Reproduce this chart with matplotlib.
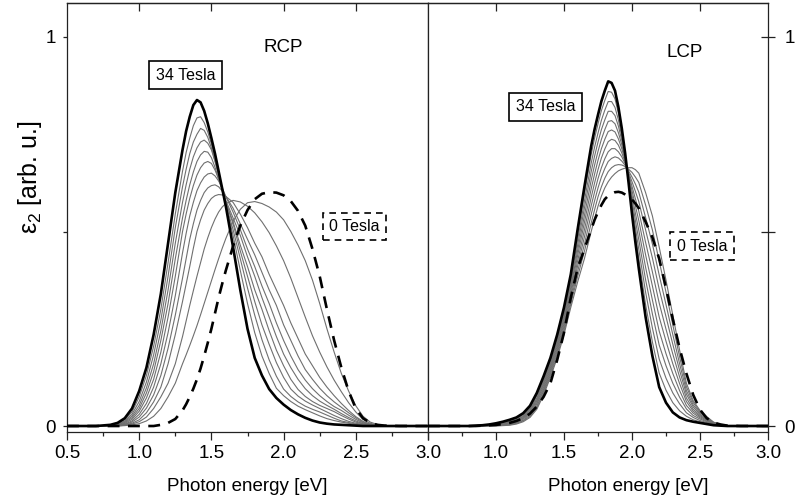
import matplotlib
matplotlib.use("Agg")
import matplotlib.pyplot as plt
from matplotlib.ticker import MultipleLocator, NullFormatter, NullLocator

plt.rcParams['font.family'] = ['Liberation Sans', 'DejaVu Sans']
plt.rcParams['mathtext.fontset'] = 'custom'
plt.rcParams['mathtext.rm'] = 'Liberation Sans'
plt.rcParams['mathtext.it'] = 'Liberation Sans:italic'

# photon energy grids [eV] (finer where the peaks are)
rcp_energy = [0.5, 0.7, 0.8,
              0.85, 0.9, 0.95, 1.0, 1.05, 1.1, 1.15, 1.2, 1.25, 1.3,
              1.325, 1.35, 1.375, 1.4, 1.425, 1.45, 1.475, 1.5, 1.525, 1.55, 1.575,
              1.6, 1.65, 1.7, 1.75, 1.8, 1.85, 1.9, 1.95, 2.0, 2.05, 2.1, 2.15, 2.2, 2.25,
              2.3, 2.35, 2.4, 2.45, 2.5, 2.55, 2.6, 2.65, 2.7,
              2.8, 3.0]
lcp_energy = [0.5, 0.7, 0.8,
              0.85, 0.9, 0.95, 1.0, 1.05, 1.1, 1.15, 1.2, 1.25, 1.3, 1.35, 1.4, 1.45, 1.5,
              1.55, 1.6, 1.65, 1.7,
              1.725, 1.75, 1.775, 1.8, 1.825, 1.85, 1.875, 1.9, 1.925, 1.95, 1.975, 2.0, 2.025,
              2.05, 2.1, 2.15, 2.2, 2.25, 2.3, 2.35, 2.4, 2.45, 2.5, 2.55, 2.6, 2.65, 2.7,
              2.8, 3.0]


def padded(vals, energy, lead=0.0):
    vals = list(vals)
    if len(vals) + 5 != len(energy):
        raise ValueError('bad length %d' % len(vals))
    return [0.0, 0.0, lead] + vals + [0.0, 0.0]


# ---- RCP ----
rcp_34 = padded([0.008, 0.020, 0.045, 0.090, 0.150, 0.235, 0.340, 0.470, 0.600, 0.710,
                 0.758, 0.795, 0.825, 0.838, 0.832, 0.810, 0.778, 0.740, 0.700, 0.655, 0.610,
                 0.565, 0.460, 0.350, 0.250, 0.175, 0.130, 0.095, 0.072, 0.055, 0.041, 0.030, 0.021,
                 0.014, 0.009, 0.006, 0.004, 0.003, 0.002, 0.001, 0, 0, 0, 0], rcp_energy, lead=0.003)
rcp_0 = padded([0, 0, 0, 0, 0, 0, 0.003, 0.008, 0.018, 0.040,
                0.056, 0.075, 0.096, 0.120, 0.148, 0.180, 0.214, 0.250, 0.290, 0.330, 0.366,
                0.400, 0.462, 0.515, 0.555, 0.583, 0.597, 0.601, 0.600, 0.593, 0.578, 0.553, 0.515,
                0.455, 0.385, 0.300, 0.220, 0.150, 0.090, 0.045, 0.020, 0.008, 0.003, 0.001], rcp_energy)
rcp_mid = [
    padded([0.006, 0.016, 0.036, 0.075, 0.130, 0.205, 0.300, 0.420, 0.545, 0.655,
            0.703, 0.740, 0.772, 0.792, 0.795, 0.780, 0.756, 0.725, 0.690, 0.650, 0.610,
            0.570, 0.490, 0.400, 0.315, 0.240, 0.180, 0.135, 0.097, 0.078, 0.063, 0.051, 0.042,
            0.034, 0.026, 0.019, 0.014, 0.010, 0.007, 0.004, 0.002, 0.001, 0, 0], rcp_energy),
    padded([0.005, 0.013, 0.030, 0.063, 0.113, 0.183, 0.272, 0.385, 0.510, 0.615,
            0.660, 0.700, 0.730, 0.750, 0.765, 0.760, 0.742, 0.715, 0.682, 0.645, 0.607,
            0.570, 0.505, 0.430, 0.355, 0.285, 0.222, 0.170, 0.128, 0.095, 0.076, 0.062, 0.051,
            0.043, 0.036, 0.028, 0.020, 0.013, 0.009, 0.005, 0.003, 0.001, 0, 0], rcp_energy),
    padded([0.004, 0.011, 0.025, 0.053, 0.098, 0.160, 0.245, 0.350, 0.470, 0.575,
            0.620, 0.660, 0.692, 0.715, 0.730, 0.735, 0.727, 0.710, 0.680, 0.645, 0.610,
            0.575, 0.520, 0.450, 0.385, 0.320, 0.260, 0.210, 0.163, 0.125, 0.095, 0.077, 0.064,
            0.054, 0.045, 0.036, 0.027, 0.019, 0.012, 0.007, 0.004, 0.002, 0.001, 0], rcp_energy),
    padded([0.003, 0.009, 0.021, 0.045, 0.085, 0.140, 0.220, 0.315, 0.430, 0.535,
            0.580, 0.620, 0.653, 0.680, 0.697, 0.706, 0.704, 0.690, 0.665, 0.635, 0.605,
            0.575, 0.525, 0.465, 0.410, 0.350, 0.300, 0.245, 0.195, 0.155, 0.120, 0.094, 0.076,
            0.063, 0.053, 0.045, 0.037, 0.027, 0.018, 0.010, 0.005, 0.002, 0.001, 0], rcp_energy),
    padded([0.002, 0.007, 0.017, 0.038, 0.072, 0.120, 0.190, 0.280, 0.385, 0.500,
            0.545, 0.585, 0.618, 0.645, 0.664, 0.676, 0.680, 0.675, 0.658, 0.635, 0.608,
            0.580, 0.535, 0.490, 0.435, 0.385, 0.330, 0.280, 0.230, 0.185, 0.150, 0.120, 0.096,
            0.078, 0.064, 0.053, 0.043, 0.032, 0.022, 0.013, 0.006, 0.003, 0.001, 0], rcp_energy),
    padded([0.002, 0.005, 0.013, 0.030, 0.058, 0.100, 0.160, 0.240, 0.335, 0.445,
            0.495, 0.540, 0.575, 0.605, 0.625, 0.640, 0.648, 0.650, 0.643, 0.630, 0.612,
            0.590, 0.550, 0.505, 0.455, 0.410, 0.360, 0.315, 0.265, 0.220, 0.180, 0.145, 0.118,
            0.096, 0.078, 0.063, 0.050, 0.040, 0.028, 0.017, 0.008, 0.003, 0.001, 0], rcp_energy),
    padded([0.001, 0.004, 0.010, 0.023, 0.046, 0.080, 0.130, 0.200, 0.285, 0.380,
            0.430, 0.480, 0.520, 0.555, 0.580, 0.600, 0.612, 0.618, 0.620, 0.615, 0.604,
            0.590, 0.560, 0.520, 0.480, 0.440, 0.395, 0.350, 0.310, 0.260, 0.220, 0.180, 0.145,
            0.120, 0.097, 0.078, 0.062, 0.048, 0.034, 0.021, 0.010, 0.004, 0.001, 0], rcp_energy),
    padded([0.001, 0.003, 0.007, 0.016, 0.034, 0.062, 0.100, 0.160, 0.235, 0.320,
            0.365, 0.410, 0.457, 0.500, 0.530, 0.555, 0.572, 0.585, 0.592, 0.595, 0.594,
            0.590, 0.575, 0.545, 0.510, 0.470, 0.435, 0.390, 0.350, 0.310, 0.265, 0.225, 0.185,
            0.155, 0.125, 0.100, 0.078, 0.058, 0.040, 0.024, 0.012, 0.005, 0.002, 0], rcp_energy),
    padded([0, 0.002, 0.005, 0.011, 0.023, 0.045, 0.075, 0.110, 0.160, 0.230,
            0.270, 0.310, 0.348, 0.385, 0.420, 0.455, 0.484, 0.510, 0.532, 0.550, 0.563,
            0.572, 0.580, 0.576, 0.565, 0.548, 0.525, 0.497, 0.463, 0.425, 0.380, 0.330, 0.280,
            0.232, 0.190, 0.152, 0.118, 0.088, 0.060, 0.036, 0.017, 0.007, 0.002, 0], rcp_energy),
    padded([0, 0.001, 0.003, 0.006, 0.013, 0.025, 0.045, 0.075, 0.110, 0.160,
            0.183, 0.207, 0.232, 0.258, 0.286, 0.315, 0.344, 0.373, 0.402, 0.430, 0.457,
            0.482, 0.526, 0.557, 0.574, 0.577, 0.572, 0.563, 0.550, 0.530, 0.500, 0.465, 0.425,
            0.375, 0.315, 0.250, 0.190, 0.135, 0.090, 0.052, 0.025, 0.010, 0.004, 0.001], rcp_energy),
]

# ---- LCP ----
lcp_34 = padded([0.001, 0.002, 0.004, 0.007, 0.011, 0.016, 0.022, 0.033, 0.052, 0.085, 0.128, 0.175,
                 0.235, 0.305, 0.390, 0.505, 0.615, 0.720,
                 0.763, 0.800, 0.835, 0.862, 0.886, 0.882, 0.862, 0.820, 0.765, 0.700, 0.625, 0.545, 0.472,
                 0.405, 0.280, 0.180, 0.100, 0.060, 0.035, 0.022, 0.015, 0.011, 0.008, 0.005, 0.002,
                 0.001, 0], lcp_energy)
lcp_0 = padded([0, 0.001, 0.002, 0.003, 0.005, 0.008, 0.013, 0.020, 0.032, 0.050, 0.075, 0.110,
                0.170, 0.240, 0.330, 0.405, 0.455, 0.505,
                0.530, 0.550, 0.568, 0.583, 0.592, 0.597, 0.601, 0.602, 0.600, 0.595, 0.589, 0.582, 0.572,
                0.560, 0.525, 0.485, 0.430, 0.355, 0.275, 0.200, 0.135, 0.080, 0.042, 0.020, 0.009,
                0.004, 0.001], lcp_energy)
lcp_mid = [
    padded([0.001, 0.002, 0.004, 0.006, 0.010, 0.015, 0.020, 0.031, 0.049, 0.081, 0.123, 0.170,
            0.229, 0.298, 0.382, 0.492, 0.597, 0.698,
            0.740, 0.777, 0.811, 0.837, 0.860, 0.858, 0.841, 0.804, 0.755, 0.696, 0.629, 0.557, 0.491,
            0.430, 0.312, 0.216, 0.136, 0.092, 0.060, 0.039, 0.025, 0.016, 0.011, 0.007, 0.003,
            0.001, 0], lcp_energy),
    padded([0.001, 0.002, 0.003, 0.006, 0.009, 0.013, 0.019, 0.029, 0.046, 0.077, 0.118, 0.165,
            0.223, 0.291, 0.373, 0.478, 0.578, 0.676,
            0.717, 0.753, 0.786, 0.812, 0.834, 0.834, 0.819, 0.787, 0.744, 0.693, 0.633, 0.569, 0.509,
            0.454, 0.344, 0.252, 0.172, 0.123, 0.085, 0.057, 0.034, 0.022, 0.014, 0.009, 0.004,
            0.002, 0], lcp_energy),
    padded([0.001, 0.001, 0.003, 0.005, 0.008, 0.012, 0.017, 0.026, 0.043, 0.072, 0.114, 0.160,
            0.217, 0.284, 0.365, 0.465, 0.560, 0.654,
            0.694, 0.730, 0.762, 0.787, 0.809, 0.809, 0.798, 0.771, 0.734, 0.689, 0.637, 0.581, 0.528,
            0.479, 0.376, 0.288, 0.208, 0.155, 0.110, 0.074, 0.044, 0.027, 0.018, 0.011, 0.004,
            0.002, 0], lcp_energy),
    padded([0.001, 0.001, 0.002, 0.004, 0.007, 0.010, 0.015, 0.024, 0.040, 0.068, 0.109, 0.155,
            0.211, 0.277, 0.356, 0.451, 0.541, 0.632,
            0.671, 0.706, 0.737, 0.762, 0.783, 0.785, 0.777, 0.754, 0.723, 0.685, 0.641, 0.593, 0.547,
            0.503, 0.408, 0.324, 0.244, 0.186, 0.135, 0.091, 0.053, 0.033, 0.021, 0.013, 0.005,
            0.002, 0], lcp_energy),
    padded([0.001, 0.001, 0.002, 0.004, 0.006, 0.009, 0.014, 0.022, 0.037, 0.064, 0.104, 0.150,
            0.205, 0.270, 0.348, 0.438, 0.523, 0.610,
            0.648, 0.683, 0.713, 0.737, 0.757, 0.761, 0.756, 0.738, 0.713, 0.682, 0.645, 0.605, 0.566,
            0.528, 0.440, 0.360, 0.280, 0.218, 0.160, 0.109, 0.063, 0.038, 0.024, 0.015, 0.006,
            0.003, 0.001], lcp_energy),
    padded([0, 0.001, 0.002, 0.003, 0.005, 0.008, 0.012, 0.020, 0.034, 0.060, 0.099, 0.145,
            0.199, 0.263, 0.339, 0.424, 0.504, 0.588,
            0.625, 0.659, 0.689, 0.712, 0.731, 0.737, 0.734, 0.722, 0.702, 0.678, 0.648, 0.616, 0.584,
            0.552, 0.472, 0.396, 0.316, 0.249, 0.185, 0.126, 0.072, 0.043, 0.027, 0.016, 0.007,
            0.003, 0.001], lcp_energy),
    padded([0, 0.001, 0.001, 0.002, 0.004, 0.006, 0.010, 0.018, 0.031, 0.056, 0.094, 0.140,
            0.193, 0.256, 0.331, 0.411, 0.486, 0.566,
            0.602, 0.636, 0.664, 0.687, 0.705, 0.713, 0.713, 0.705, 0.692, 0.674, 0.652, 0.628, 0.603,
            0.577, 0.504, 0.432, 0.352, 0.281, 0.210, 0.143, 0.082, 0.049, 0.030, 0.018, 0.008,
            0.003, 0.001], lcp_energy),
    padded([0, 0, 0.001, 0.001, 0.003, 0.005, 0.008, 0.015, 0.028, 0.051, 0.090, 0.135,
            0.187, 0.249, 0.322, 0.397, 0.467, 0.544,
            0.579, 0.612, 0.640, 0.662, 0.680, 0.688, 0.692, 0.689, 0.681, 0.670, 0.656, 0.640, 0.622,
            0.601, 0.536, 0.468, 0.388, 0.312, 0.235, 0.160, 0.091, 0.054, 0.034, 0.020, 0.008,
            0.003, 0.001], lcp_energy),
    padded([0, 0, 0, 0.001, 0.002, 0.003, 0.007, 0.013, 0.025, 0.047, 0.085, 0.130,
            0.181, 0.242, 0.314, 0.384, 0.449, 0.522,
            0.556, 0.589, 0.615, 0.637, 0.654, 0.664, 0.670, 0.672, 0.671, 0.667, 0.660, 0.652, 0.640,
            0.626, 0.568, 0.504, 0.424, 0.344, 0.260, 0.178, 0.101, 0.060, 0.037, 0.022, 0.009,
            0.004, 0.001], lcp_energy),
    padded([0, 0, 0, 0, 0.001, 0.002, 0.005, 0.011, 0.022, 0.043, 0.080, 0.125,
            0.175, 0.235, 0.305, 0.370, 0.430, 0.500,
            0.533, 0.565, 0.591, 0.612, 0.628, 0.640, 0.649, 0.656, 0.660, 0.663, 0.664, 0.664, 0.659,
            0.650, 0.600, 0.540, 0.460, 0.375, 0.285, 0.195, 0.110, 0.065, 0.040, 0.024, 0.010,
            0.004, 0.001], lcp_energy),
]

SPINE = '#222222'
THIN = '#6f6f6f'


def draw_panel(ax, energy, mids, zero, full):
    for y in mids:
        ax.plot(energy, y, color=THIN, lw=0.8, zorder=2, solid_joinstyle='round')
    ax.plot(energy, zero, color='black', lw=1.9, dashes=(4.5, 3.2), zorder=3)
    ax.plot(energy, full, color='black', lw=1.9, zorder=4, solid_joinstyle='round')

    ax.set_xlim(0.5, 3.0)
    ax.set_ylim(-0.0154, 1.0874)
    for s in ax.spines.values():
        s.set_linewidth(0.9)
        s.set_color(SPINE)

    ax.set_xticks([0.5, 1.0, 1.5, 2.0, 2.5, 3.0])
    ax.xaxis.set_minor_locator(MultipleLocator(0.25))
    ax.tick_params(axis='x', which='major', direction='out', length=6, width=0.9,
                   color=SPINE, labelsize=13.5, pad=3)
    ax.tick_params(axis='x', which='minor', direction='out', length=3, width=0.9, color=SPINE)

    top = ax.secondary_xaxis('top')
    top.set_xticks([1.0, 1.5, 2.0, 2.5])
    top.xaxis.set_major_formatter(NullFormatter())
    top.xaxis.set_minor_locator(NullLocator())
    top.tick_params(axis='x', direction='in', length=6, width=0.9, color=SPINE)
    top.spines['top'].set_linewidth(0.9)
    top.spines['top'].set_color(SPINE)

    ax.set_yticks([0, 0.5, 1.0])
    ax.set_yticklabels(['0', '', '1'])


fig = plt.figure(figsize=(7.99, 4.99), dpi=100)
ax1 = fig.add_axes([67 / 799, 67 / 499, 361 / 799, 429 / 499])
ax2 = fig.add_axes([428 / 799, 67 / 499, 340 / 799, 429 / 499])

draw_panel(ax1, rcp_energy, rcp_mid, rcp_0, rcp_34)
draw_panel(ax2, lcp_energy, lcp_mid, lcp_0, lcp_34)

ax1.set_xticklabels(['0.5', '1.0', '1.5', '2.0', '2.5', '3.0'])
ax2.set_xticklabels(['', '1.0', '1.5', '2.0', '2.5', '3.0'])

ax1.tick_params(axis='y', direction='out', length=3, width=0.9, color=SPINE, labelsize=13.5, pad=5)
ax2.yaxis.tick_right()
ax2.tick_params(axis='y', direction='inout', length=10, width=0.9, color=SPINE, labelsize=13.5, pad=7)

ax1.set_xlabel('Photon energy [eV]', fontsize=13.5)
ax2.set_xlabel('Photon energy [eV]', fontsize=13.5)
ax1.xaxis.set_label_coords(0.5, -0.108)
ax2.xaxis.set_label_coords(0.588, -0.108)

fig.text(30 / 799, 1 - 177 / 499, r'ε$_2$ [arb. u.]', rotation=90, ha='center', va='center', fontsize=18)

ax1.text(2.0, 0.974, 'RCP', ha='center', va='center', fontsize=13.5)
ax2.text(2.39, 0.959, 'LCP', ha='center', va='center', fontsize=13.5)

solid_box = dict(boxstyle='square,pad=0.4', fc='white', ec='black', lw=1.2)
dash_box = dict(boxstyle='square,pad=0.4', fc='white', ec='black', lw=1.2, ls=(0, (4, 3)))
ax1.text(1.32, 0.902, '34 Tesla', ha='center', va='center', fontsize=11.5, bbox=solid_box, zorder=6)
ax1.text(2.49, 0.513, '0 Tesla', ha='center', va='center', fontsize=11.5, bbox=dash_box, zorder=6)
ax2.text(1.364, 0.821, '34 Tesla', ha='center', va='center', fontsize=11.5, bbox=solid_box, zorder=6)
ax2.text(2.515, 0.462, '0 Tesla', ha='center', va='center', fontsize=11.5, bbox=dash_box, zorder=6)

fig.savefig('out.png', dpi=100)
